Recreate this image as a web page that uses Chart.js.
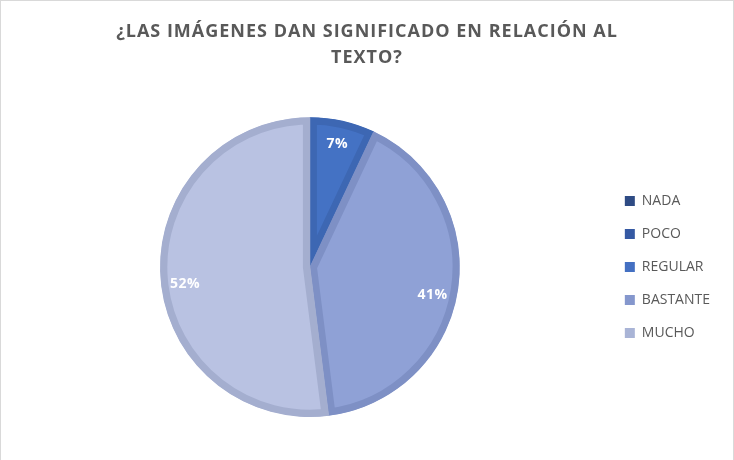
<!DOCTYPE html>
<html>
<head>
<meta charset="utf-8">
<script src="https://cdn.jsdelivr.net/npm/chart.js@4.4.1/dist/chart.umd.min.js"></script>
<style>
  html, body { margin: 0; padding: 0; background: #fff; }
  #wrap { position: relative; width: 734px; height: 460px; }
  #frame {
    position: absolute; left: 0; top: 0; width: 734px; height: 460px;
    box-sizing: border-box; border: 1px solid #d9d9d9; border-bottom: none;
    pointer-events: none;
  }
</style>
</head>
<body>
<div id="wrap">
  <canvas id="pie" width="734" height="460"></canvas>
  <div id="frame"></div>
</div>
<script>
const categories = ['NADA', 'POCO', 'REGULAR', 'BASTANTE', 'MUCHO'];
const percents = [0, 0, 7, 41, 52];

const fillColors = ['#2b4a85', '#3359a5', '#4472c4', '#8fa1d6', '#b9c2e2'];
const edgeColors = ['#24406f', '#2c4e8f', '#3d67b3', '#7e90c5', '#a4aecf'];
const legendColors = ['#2e4b84', '#3559a3', '#4470c2', '#8597cd', '#a9b4d6'];
// small angular shift (degrees) for each percentage label
const labelShift = [0, 0, 0, 4, -4];

const textGrey = '#595959';

// wider tracking for the title only
const titleSpacing = {
    id: 'titleSpacing',
    afterLayout(chart) {
        const t = chart.titleBlock;
        if (!t || t._spaced) return;
        const draw = t.draw.bind(t);
        t.draw = (...args) => {
            chart.ctx.letterSpacing = '1px';
            draw(...args);
            chart.ctx.letterSpacing = '0px';
        };
        t._spaced = true;
    }
};

const pieLabels = {
    id: 'pieLabels',
    afterDatasetsDraw(chart) {
        const { ctx } = chart;
        const meta = chart.getDatasetMeta(0);
        ctx.save();
        ctx.letterSpacing = '0.5px';
        ctx.font = 'bold 14px "Open Sans", sans-serif';
        ctx.fillStyle = '#ffffff';
        ctx.textAlign = 'center';
        ctx.textBaseline = 'middle';
        meta.data.forEach((arc, i) => {
            const v = percents[i];
            if (!v) return;
            const p = arc.getProps(['x', 'y', 'startAngle', 'endAngle', 'outerRadius'], true);
            const a = (p.startAngle + p.endAngle) / 2 + labelShift[i] * Math.PI / 180;
            const r = p.outerRadius * 0.84;
            ctx.fillText(v + '%', p.x + Math.cos(a) * r, p.y + Math.sin(a) * r);
        });
        ctx.restore();
    }
};

new Chart(document.getElementById('pie').getContext('2d'), {
    type: 'pie',
    data: {
        labels: categories,
        datasets: [{
            data: percents,
            backgroundColor: fillColors,
            borderColor: edgeColors,
            borderWidth: 7,
            borderAlign: 'inner'
        }]
    },
    options: {
        responsive: false,
        animation: false,
        layout: { padding: { top: 19, bottom: 43, left: 14, right: 14 } },
        plugins: {
            title: {
                display: true,
                text: ['¿LAS IMÁGENES DAN SIGNIFICADO EN RELACIÓN AL', 'TEXTO?'],
                color: textGrey,
                font: { family: '"Open Sans", sans-serif', size: 18, weight: 'bold', lineHeight: 1.45 },
                padding: { top: 0, bottom: 46 }
            },
            legend: {
                position: 'right',
                fullSize: false,
                labels: {
                    color: textGrey,
                    font: { family: '"Open Sans", sans-serif', size: 14 },
                    boxWidth: 10,
                    boxHeight: 10,
                    padding: 19,
                    generateLabels(chart) {
                        return categories.map((c, i) => ({
                            text: c,
                            fillStyle: legendColors[i],
                            strokeStyle: legendColors[i],
                            lineWidth: 0,
                            fontColor: textGrey,
                            hidden: false,
                            index: i
                        }));
                    }
                }
            },
            tooltip: { enabled: false }
        }
    },
    plugins: [titleSpacing, pieLabels]
});
</script>
</body>
</html>
